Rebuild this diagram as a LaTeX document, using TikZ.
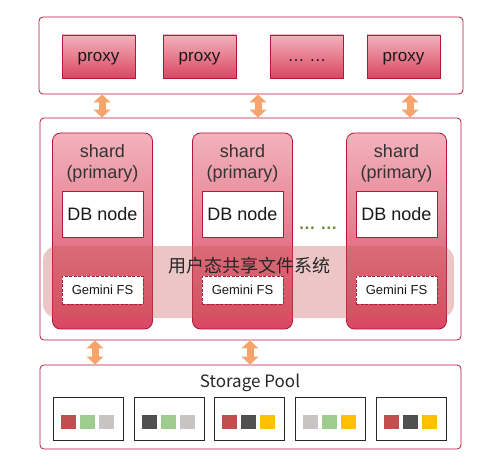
\documentclass[tikz,border=0pt]{standalone}
\usepackage{fontspec}
\setmainfont{Liberation Sans}
\newfontfamily\cjk{Noto Sans CJK SC}
\usetikzlibrary{positioning,arrows.meta}

\definecolor{frame}{HTML}{B2183A}
\definecolor{boxtop}{HTML}{F2B3BC}
\definecolor{boxbot}{HTML}{DA4662}
\definecolor{flow}{HTML}{F6A46C}
\definecolor{bandfill}{HTML}{C85A5A}
\definecolor{sqred}{HTML}{C0504D}
\definecolor{sqgreen}{HTML}{9DCC8E}
\definecolor{sqlight}{HTML}{C8C4C4}
\definecolor{sqdark}{HTML}{505050}
\definecolor{sqyellow}{HTML}{FFC000}
\definecolor{dots}{HTML}{6E8B3D}

\tikzset{
  panel/.style={draw=frame, line width=0.8pt, rounded corners=4pt},
  proxy box/.style={draw=frame, line width=0.8pt, top color=boxtop, bottom color=boxbot,
    minimum width=73pt, minimum height=43pt, text height=14pt, text depth=3pt,
    text=black!90, font=\fontsize{17}{20}\selectfont},
  shard box/.style={draw=frame, line width=0.8pt, rounded corners=8pt,
    top color=boxtop, bottom color=boxbot, minimum width=100pt, minimum height=196pt},
  shard label/.style={align=center, text=black!80, font=\fontsize{18}{21}\selectfont},
  db box/.style={draw=frame, fill=white, line width=0.8pt, minimum width=81pt,
    minimum height=46pt, text=black!90, font=\fontsize{18}{21}\selectfont},
  fs box/.style={draw=frame, fill=white, line width=0.8pt, dash pattern=on 3pt off 1.5pt,
    minimum width=81pt, minimum height=28pt, text=black!90, font=\fontsize{13}{15}\selectfont},
  fs band/.style={fill=bandfill, fill opacity=0.35, rounded corners=14pt,
    minimum width=411pt, minimum height=72pt},
  disk/.style={draw=black!85, line width=0.8pt, minimum width=70pt, minimum height=43pt},
  block/.style={minimum width=15pt, minimum height=14pt, inner sep=0pt},
  flow arrow/.style={draw=flow, line width=7pt,
    {Triangle[width=17pt,length=8pt,line width=0pt]}-{Triangle[width=17pt,length=8pt,line width=0pt]}}
}

\begin{document}
\begin{tikzpicture}[x=1pt, y=-1pt]
\useasboundingbox (0,0) rectangle (481,465);

% proxy layer
\node [panel, minimum width=424pt, minimum height=77pt] (top) at (251,55.5) {};
\foreach \l/\x [count=\i] in {proxy/98.5, proxy/199.5, {\dots\ \dots}/307, proxy/403.5}
  \node [proxy box] (proxy-\i) at (\x,56.5) {\l};

% shard layer
\node [panel, minimum width=421pt, minimum height=222pt] (mid) at (250.5,229) {};
\foreach \x [count=\i] in {102.5, 242.5, 396.5} {
  \node [shard box] (shard-\i) at (\x,231) {};
  \node [shard label, below=8pt of shard-\i.north] {shard\\(primary)};
  \node [db box] (db-\i) at (\x,214) {DB node};
}
\node [text=dots, font=\bfseries\fontsize{17}{20}\selectfont] at (318,228) {\dots\ \dots};

\node [fs band] (band) at (248.5,282) {};
\node [font=\cjk\fontsize{18}{21}\selectfont, text=black!85] at (249,266) {用户态共享文件系统};
\foreach \x [count=\i] in {102.5, 242.5, 396.5}
  \node [fs box] (fs-\i) at (\x,290) {Gemini FS};

% storage layer
\node [panel, minimum width=421pt, minimum height=84pt] (pool) at (250.5,407) {};
\node [font=\cjk\fontsize{17}{20}\selectfont, text=black!85] at (250,383) {Storage Pool};
\foreach \x/\a/\b/\c [count=\i] in {88/sqred/sqgreen/sqlight, 169/sqdark/sqgreen/sqlight,
    249/sqred/sqdark/sqyellow, 330/sqlight/sqgreen/sqyellow, 411/sqred/sqdark/sqyellow} {
  \node [disk] (disk-\i) at (\x,418.5) {};
  \node [block, fill=\a] at (\x-20,422) {};
  \node [block, fill=\b] at (\x-1,422) {};
  \node [block, fill=\c] at (\x+18,422) {};
}

% arrows between layers
\foreach \x in {102, 258, 410}
  \draw [flow arrow] (top.south -| \x,0) -- (mid.north -| \x,0);
\foreach \x in {95, 250}
  \draw [flow arrow] (mid.south -| \x,0) -- (pool.north -| \x,0);

\end{tikzpicture}
\end{document}
